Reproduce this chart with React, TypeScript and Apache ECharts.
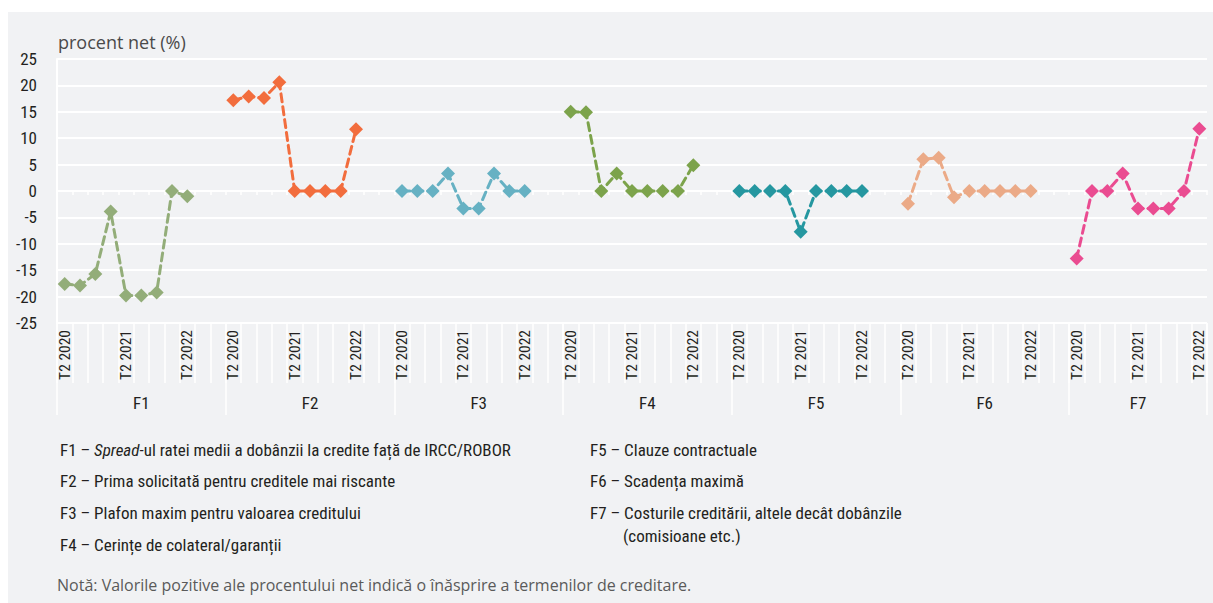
import React, { useEffect, useRef } from "react";
import * as echarts from "echarts";

const groups = ["F1", "F2", "F3", "F4", "F5", "F6", "F7"];
const quarters = ["T2 2020", "T3 2020", "T4 2020", "T1 2021", "T2 2021", "T3 2021", "T4 2021", "T1 2022", "T2 2022"];
const shownQuarters = ["T2 2020", "T2 2021", "T2 2022"];

const f1 = [-17.6, -17.9, -15.7, -3.9, -19.8, -19.8, -19.2, 0, -1.0];
const f2 = [17.2, 17.9, 17.6, 20.6, 0, 0, 0, 0, 11.7];
const f3 = [0, 0, 0, 3.3, -3.3, -3.3, 3.3, 0, 0];
const f4 = [15.0, 14.9, 0, 3.3, 0, 0, 0, 0, 4.9];
const f5 = [0, 0, 0, 0, -7.7, 0, 0, 0, 0];
const f6 = [-2.4, 6.0, 6.3, -1.2, 0, 0, 0, 0, 0];
const f7 = [-12.8, 0, 0, 3.3, -3.3, -3.3, -3.3, 0, 11.8];
const seriesValues = [f1, f2, f3, f4, f5, f6, f7];

const colors = ["#93ad79", "#f26d3d", "#66b1c3", "#7ca34b", "#2597a0", "#ebaa87", "#ea4c91"];

const yTitle = "procent net (%)";
const legendLeft = [
  "F1 – {i|Spread}-ul ratei medii a dobânzii la credite față de IRCC/ROBOR",
  "F2 – Prima solicitată pentru creditele mai riscante",
  "F3 – Plafon maxim pentru valoarea creditului",
  "F4 – Cerințe de colateral/garanții",
];
const legendRight = [
  "F5 – Clauze contractuale",
  "F6 – Scadența maximă",
  "F7 – Costurile creditării, altele decât dobânzile",
  "(comisioane etc.)",
];
const note = "Notă: Valorile pozitive ale procentului net indică o înăsprire a termenilor de creditare.";

const COND = "'Roboto Condensed', 'Open Sans Condensed', 'Liberation Sans Narrow', 'DejaVu Sans Condensed', sans-serif";
const REG = "'Open Sans', 'Noto Sans', sans-serif";
const TXT = "#231f20";

export default function App() {
  const ref = useRef<HTMLDivElement>(null);
  useEffect(() => {
    if (!ref.current) return;
    const chart = echarts.init(ref.current, undefined, { renderer: "svg" });

    const cats: string[] = [];
    const catQuarter: string[] = [];
    const catGroup: number[] = [];
    const catPos: number[] = [];
    const groupStart: number[] = [];
    const groupCenter: number[] = [];
    groups.forEach((g, gi) => {
      groupStart.push(cats.length);
      const len = gi < groups.length - 1 ? quarters.length + 2 : quarters.length;
      groupCenter.push(cats.length + Math.floor(len / 2));
      quarters.forEach((q, qi) => {
        cats.push(g + " " + q);
        catQuarter.push(q);
        catGroup.push(gi);
        catPos.push(qi);
      });
      if (gi < groups.length - 1) {
        for (let k = 0; k < 2; k++) {
          cats.push(g + " gap" + k);
          catQuarter.push("");
          catGroup.push(gi);
          catPos.push(-1);
        }
      }
    });
    const quarterOf: Record<string, string> = {};
    const groupOf: Record<string, string> = {};
    cats.forEach((c, i) => {
      quarterOf[c] = catQuarter[i];
      groupOf[c] = groups[catGroup[i]];
    });

    const series = seriesValues.map((vals, gi) => ({
      type: "line",
      name: groups[gi],
      xAxisIndex: 0,
      yAxisIndex: 0,
      data: cats.map((_, ci) => (catGroup[ci] === gi && catPos[ci] >= 0 ? vals[catPos[ci]] : "-")),
      symbol: "diamond",
      symbolSize: 14,
      showSymbol: true,
      showAllSymbol: true,
      connectNulls: false,
      itemStyle: { color: colors[gi] },
      lineStyle: { color: colors[gi], width: 3, type: [8, 5], cap: "round" },
      emphasis: { disabled: true },
    }));

    const legendGraphics: any[] = [];
    const leftY = [452, 483, 515, 547];
    legendLeft.forEach((t, i) => {
      legendGraphics.push({
        type: "text",
        left: 60,
        top: leftY[i] - 11,
        style: {
          text: t,
          fontFamily: COND,
          fontSize: 17,
          fill: TXT,
          rich: { i: { fontStyle: "italic", fontFamily: COND, fontSize: 17, fill: TXT } },
        },
      });
    });
    const rightPos = [
      [590, 452],
      [590, 483],
      [590, 515],
      [623, 538],
    ];
    legendRight.forEach((t, i) => {
      legendGraphics.push({
        type: "text",
        left: rightPos[i][0],
        top: rightPos[i][1] - 11,
        style: { text: t, fontFamily: COND, fontSize: 17, fill: TXT },
      });
    });

    chart.setOption({
      animation: false,
      backgroundColor: "transparent",
      grid: { left: 57, right: 6, top: 59, bottom: 280, containLabel: false, outerBoundsMode: "none" },
      xAxis: [
        {
          type: "category",
          data: cats,
          position: "bottom",
          boundaryGap: true,
          axisLine: { show: true, onZero: true, lineStyle: { color: "#ffffff", width: 2 } },
          axisTick: { show: true, interval: 0, length: 4, lineStyle: { color: "#ffffff", width: 1.5 } },
          axisLabel: { show: false },
          splitLine: { show: false },
        },
        {
          type: "category",
          data: cats,
          position: "bottom",
          boundaryGap: true,
          axisLine: { show: false, onZero: false },
          axisTick: { show: true, interval: 0, length: 60, lineStyle: { color: "#ffffff", width: 1.5 } },
          axisLabel: {
            show: true,
            interval: (i: number) => shownQuarters.indexOf(catQuarter[i]) >= 0,
            formatter: (v: string) => quarterOf[v] || "",
            rotate: 90,
            margin: 7,
            fontFamily: COND,
            fontSize: 15.5,
            color: TXT,
          },
          splitLine: { show: false },
        },
        {
          type: "category",
          data: cats,
          position: "bottom",
          boundaryGap: true,
          axisLine: { show: false, onZero: false },
          axisTick: {
            show: true,
            interval: (i: number) => groupStart.indexOf(i) >= 0,
            length: 92,
            lineStyle: { color: "#ffffff", width: 1.5 },
          },
          axisLabel: {
            show: true,
            interval: (i: number) => groupCenter.indexOf(i) >= 0,
            formatter: (v: string) => groupOf[v] || "",
            margin: 71,
            fontFamily: COND,
            fontSize: 17,
            color: TXT,
          },
          splitLine: { show: false },
        },
      ],
      yAxis: {
        type: "value",
        min: -25,
        max: 25,
        interval: 5,
        axisLine: { show: true, lineStyle: { color: "#ffffff", width: 2 } },
        axisTick: { show: false },
        axisLabel: { fontFamily: COND, fontSize: 17, color: TXT, margin: 20 },
        splitLine: { show: true, lineStyle: { color: "#ffffff", width: 2 } },
      },
      graphic: [
        {
          type: "rect",
          shape: { x: 8, y: 12, width: 1205, height: 591 },
          style: { fill: "#f1f2f4" },
          z: -100,
          silent: true,
        },
        {
          type: "text",
          left: 58,
          top: 33,
          style: { text: yTitle, fontFamily: REG, fontSize: 18, fill: "#4a4a4a" },
        },
        ...legendGraphics,
        {
          type: "text",
          left: 57,
          top: 577,
          style: { text: note, fontFamily: REG, fontSize: 16, fill: "#5a5a5a" },
        },
      ],
      series,
    });
    return () => chart.dispose();
  }, []);
  return (
    <div
      ref={ref}
      style={{ position: "absolute", left: 0, top: 0, width: 1213, height: 603 }}
    />
  );
}
